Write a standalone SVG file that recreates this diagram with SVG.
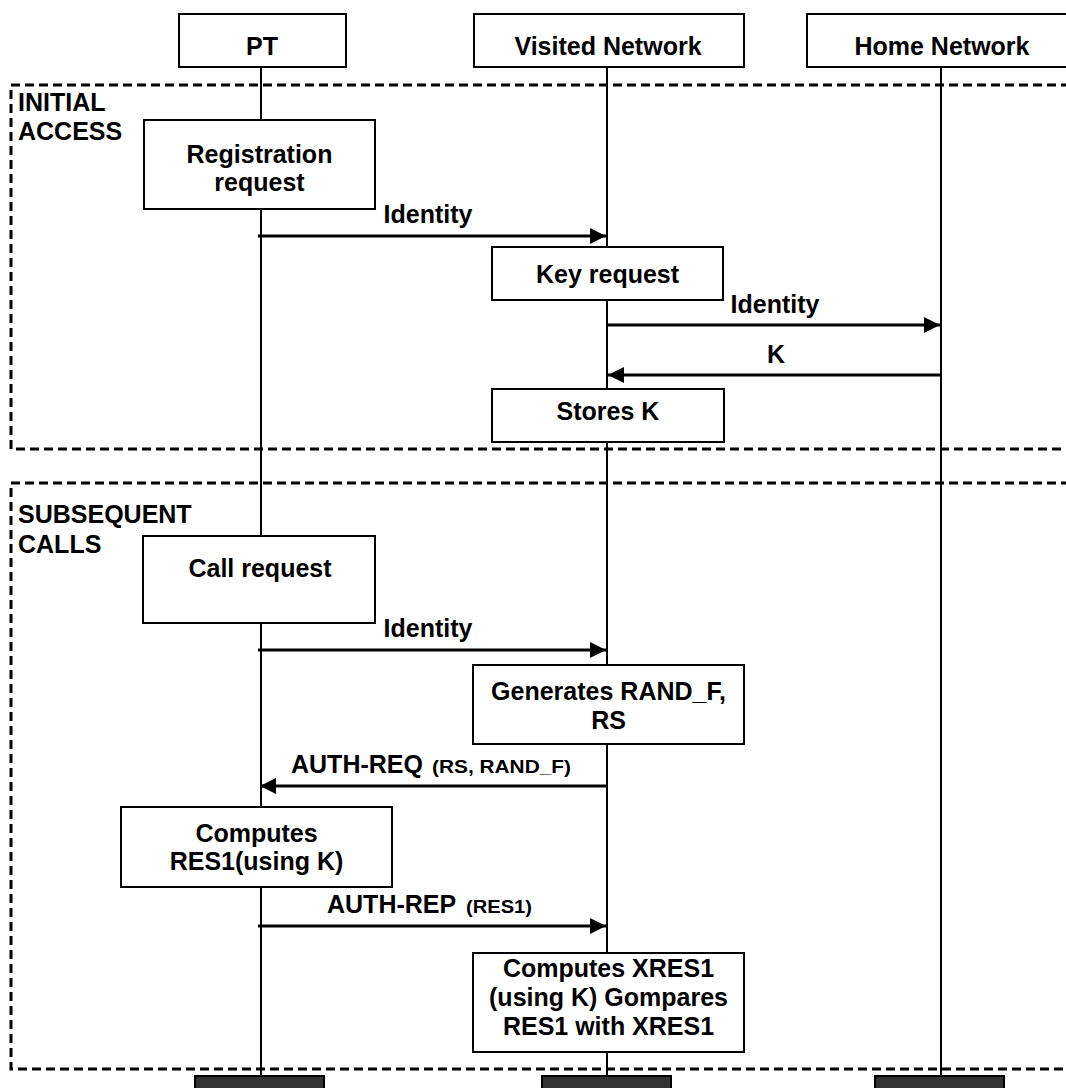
<svg xmlns="http://www.w3.org/2000/svg" width="1066" height="1088" viewBox="0 0 1066 1088">
<style>
text{font-family:"Liberation Sans",Arial,sans-serif;font-weight:bold;font-size:25px;fill:#000}
.c{text-anchor:middle}
.sm{font-size:18px}
.box{fill:#fff;stroke:#000;stroke-width:2}
.life{stroke:#000;stroke-width:2;fill:none}
.frame{fill:none;stroke:#000;stroke-width:3;stroke-dasharray:9 5}
.msg{stroke:#000;stroke-width:3;fill:none}
.end{fill:#333;stroke:#000;stroke-width:2}
</style>
<defs>
<marker id="ah" markerWidth="16" markerHeight="16" viewBox="0 0 16 16" refX="16" refY="8" orient="auto" markerUnits="userSpaceOnUse">
<path d="M0,0 L16,8 L0,16 Z" fill="#000"/>
</marker>
</defs>
<rect width="1066" height="1088" fill="#fff"/>

<g id="frames">
<path class="frame" d="M1070,85 H11 V449 H1070"/>
<path class="frame" d="M1070,483 H11 V1069 H1070"/>
<text x="18" y="110.5">INITIAL</text>
<text x="18" y="139.5">ACCESS</text>
<text x="18" y="523">SUBSEQUENT</text>
<text x="18" y="553">CALLS</text>
</g>

<g id="lifelines">
<line class="life" x1="261" y1="67" x2="261" y2="1076"/>
<line class="life" x1="607" y1="67" x2="607" y2="1076"/>
<line class="life" x1="941" y1="67" x2="941" y2="1076"/>
</g>

<g id="pt">
<rect class="box" x="179" y="14" width="167" height="53"/>
<text class="c" x="262" y="54.5">PT</text>
<rect class="end" x="195" y="1076" width="129" height="20"/>
</g>
<g id="visited">
<rect class="box" x="474" y="14" width="270" height="53"/>
<text class="c" x="608" y="54.5">Visited Network</text>
<rect class="end" x="542" y="1076" width="129" height="20"/>
</g>
<g id="home">
<rect class="box" x="807" y="14" width="270" height="53"/>
<text class="c" x="942" y="54.5">Home Network</text>
<rect class="end" x="875" y="1076" width="129" height="20"/>
</g>

<g id="registration">
<rect class="box" x="144" y="120" width="231" height="89"/>
<text class="c" x="259.5" y="162.5">Registration</text>
<text class="c" x="259.5" y="190.5">request</text>
</g>
<g id="keyrequest">
<rect class="box" x="492" y="247" width="231" height="53"/>
<text class="c" x="607.5" y="283">Key request</text>
</g>
<g id="storesk">
<rect class="box" x="492" y="389" width="232" height="53"/>
<text class="c" x="608" y="420">Stores K</text>
</g>
<g id="callrequest">
<rect class="box" x="143" y="536" width="232" height="87"/>
<text class="c" x="260" y="577">Call request</text>
</g>
<g id="generates">
<rect class="box" x="473" y="665" width="271" height="79"/>
<text class="c" x="608.5" y="700">Generates RAND_F,</text>
<text class="c" x="608.5" y="729">RS</text>
</g>
<g id="computesres1">
<rect class="box" x="121" y="807" width="271" height="80"/>
<text class="c" x="256.5" y="842">Computes</text>
<text class="c" x="256.5" y="870">RES1(using K)</text>
</g>
<g id="computesxres1">
<rect class="box" x="473" y="953" width="271" height="99"/>
<text class="c" x="608.5" y="977">Computes XRES1</text>
<text class="c" x="608.5" y="1006">(using K) Gompares</text>
<text class="c" x="608.5" y="1035">RES1 with XRES1</text>
</g>

<g id="connectors">
<line class="msg" x1="258" y1="236" x2="606" y2="236" marker-end="url(#ah)"/>
<text class="c" x="428" y="223">Identity</text>
<line class="msg" x1="607" y1="325" x2="940" y2="325" marker-end="url(#ah)"/>
<text class="c" x="775" y="313">Identity</text>
<line class="msg" x1="942" y1="375" x2="608" y2="375" marker-end="url(#ah)"/>
<text class="c" x="776" y="363">K</text>
<line class="msg" x1="258" y1="650" x2="606" y2="650" marker-end="url(#ah)"/>
<text class="c" x="428" y="637">Identity</text>
<line class="msg" x1="607" y1="786" x2="260" y2="786" marker-end="url(#ah)"/>
<text x="291" y="773">AUTH-REQ</text>
<text class="sm" x="432" y="773" textLength="139" lengthAdjust="spacingAndGlyphs">(RS, RAND_F)</text>
<line class="msg" x1="258" y1="926" x2="606" y2="926" marker-end="url(#ah)"/>
<text x="327" y="913">AUTH-REP</text>
<text class="sm" x="466" y="913" textLength="66" lengthAdjust="spacingAndGlyphs">(RES1)</text>
</g>
</svg>
